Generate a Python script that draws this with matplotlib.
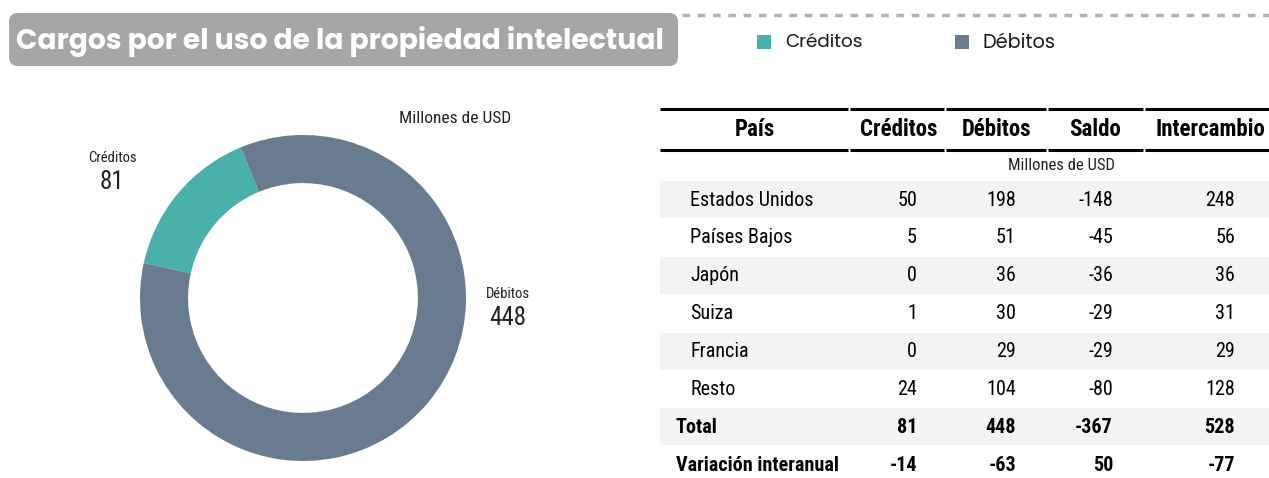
import matplotlib
matplotlib.use("Agg")
import matplotlib.pyplot as plt
from matplotlib.patches import FancyBboxPatch, Rectangle
from matplotlib import font_manager as fm

# ---------------- data ----------------
donut_labels = ["Créditos", "Débitos"]
donut_values = [81, 448]
unit_label = "Millones de USD"
title_text = "Cargos por el uso de la propiedad intelectual"

table_headers = ["País", "Créditos", "Débitos", "Saldo", "Intercambio"]
countries = ["Estados Unidos", "Países Bajos", "Japón", "Suiza", "Francia", "Resto"]
creditos = [50, 5, 0, 1, 0, 24]
debitos = [198, 51, 36, 30, 29, 104]
saldo = [-148, -45, -36, -29, -29, -80]
intercambio = [248, 56, 36, 31, 29, 128]
total_row = ["Total", 81, 448, -367, 528]
variacion_row = ["Variación interanual", -14, -63, 50, -77]

C_CRED = "#4AB1AA"
C_DEB = "#687B8F"

W, H = 1269, 478
fig = plt.figure(figsize=(W / 100, H / 100), dpi=100)
bg = fig.add_axes([0, 0, 1, 1])
bg.set_xlim(0, W)
bg.set_ylim(H, 0)
bg.axis("off")

ttf = fm.fontManager.ttflist
def has_static(name, weight):
    for f in ttf:
        if f.name == name and "wght" not in f.fname and f.style == "normal":
            w = f.weight if isinstance(f.weight, int) else 400
            if abs(w - weight) <= 100:
                return True
    return False

def pick(weight, *cands):
    for c in cands:
        if has_static(c, weight):
            return [c, "DejaVu Sans"]
    return ["DejaVu Sans"]

NF = pick(400, "Roboto Condensed", "Archivo Narrow", "IBM Plex Sans Condensed", "Roboto")
TF = pick(700, "Quicksand", "Comfortaa", "Fredoka", "Varela Round", "Poppins", "Lato")
LF = pick(400, "Montserrat", "Poppins", "Lato")

renderer = fig.canvas.get_renderer()

def fit_text(x, y, s, width_px, **kw):
    t = bg.text(x, y, s, fontsize=10, **kw)
    bb = t.get_window_extent(renderer=renderer)
    t.set_fontsize(10 * width_px / bb.width)
    return t

# ---------------- title box ----------------
box = FancyBboxPatch((9, 13), 669, 53, boxstyle="round,pad=0,rounding_size=9",
                     fc="#A6A6A6", ec="none")
bg.add_patch(box)
fit_text(16, 41, title_text, 648, color="white", fontweight="bold",
         family=TF, va="center", ha="left")
bg.plot([682, W], [15, 15], color="#B3B3B3", lw=2.5, ls=(0, (2.2, 2.2)),
        solid_capstyle="butt")

# legend
for xs, lab, col in [(757, donut_labels[0], C_CRED), (955, donut_labels[1], C_DEB)]:
    bg.add_patch(Rectangle((xs, 35), 14, 14, fc=col, ec="none"))
    fit_text(xs + 28, 43, lab, 78 if lab == donut_labels[0] else 73,
             family=LF, va="center", ha="left", color="#1a1a1a")

# ---------------- donut ----------------
cx, cy, R = 303, 298, 163
pax = fig.add_axes([(cx - R) / W, (H - cy - R) / H, 2 * R / W, 2 * R / H])
pax.pie(donut_values, colors=[C_CRED, C_DEB], startangle=112.5, counterclock=True,
        radius=1.0, wedgeprops=dict(width=0.295, edgecolor="none"))
pax.set_xlim(-1, 1)
pax.set_ylim(-1, 1)
pax.set_aspect("equal")
pax.axis("off")

bg.text(455, 118, unit_label, fontsize=12.5, family=NF, ha="center", va="center", color="#222")
bg.text(112, 158, donut_labels[0], fontsize=10.5, family=NF, ha="center", va="center", color="#222")
bg.text(112, 182, str(donut_values[0]), fontsize=18, family=NF, ha="center", va="center", color="#222")
bg.text(508, 294, donut_labels[1], fontsize=10.5, family=NF, ha="center", va="center", color="#222")
bg.text(508, 318, str(donut_values[1]), fontsize=18, family=NF, ha="center", va="center", color="#222")

# ---------------- table ----------------
x0, x1 = 660, W
gaps = [849, 945, 1047, 1144]
def seg_line(y, lw):
    xs = [x0] + gaps + [x1]
    for a, b in zip(xs[:-1], xs[1:]):
        bg.plot([a + (1 if a != x0 else 0), b - (1 if b != x1 else 0)], [y, y],
                color="black", lw=lw, solid_capstyle="butt")

seg_line(108.5, 2.2)
seg_line(150, 2.2)

hdr_x = [755, 899, 997, 1095, 1210]
for xh, h in zip(hdr_x, table_headers):
    bg.text(xh, 130, h, fontsize=16.5, fontweight="bold", family=NF,
            ha="center", va="center", color="black")
bg.text(1062, 166, unit_label, fontsize=12, family=NF, ha="center", va="center", color="#222")

num_x = [917, 1016, 1113, 1235]
row_y0 = 200
pitch = 37.9
rows = [[c, a, b, s, i] for c, a, b, s, i in zip(countries, creditos, debitos, saldo, intercambio)]
all_rows = rows + [total_row, variacion_row]
for r, row in enumerate(all_rows):
    y = row_y0 + r * pitch
    if r % 2 == 0:
        bg.add_patch(Rectangle((x0, y - 19), x1 - x0, 37, fc="#F3F3F3", ec="none", zorder=0))
    bold = r >= len(rows)
    fw = "bold" if bold else "normal"
    lx = 676 if bold else 690
    bg.text(lx, y, row[0], fontsize=14.5, fontweight=fw, family=NF, ha="left", va="center", color="black")
    for xn, v in zip(num_x, row[1:]):
        bg.text(xn, y, f"{v}", fontsize=14.5, fontweight=fw, family=NF, ha="right", va="center", color="black")

fig.savefig("out.png", dpi=100)
